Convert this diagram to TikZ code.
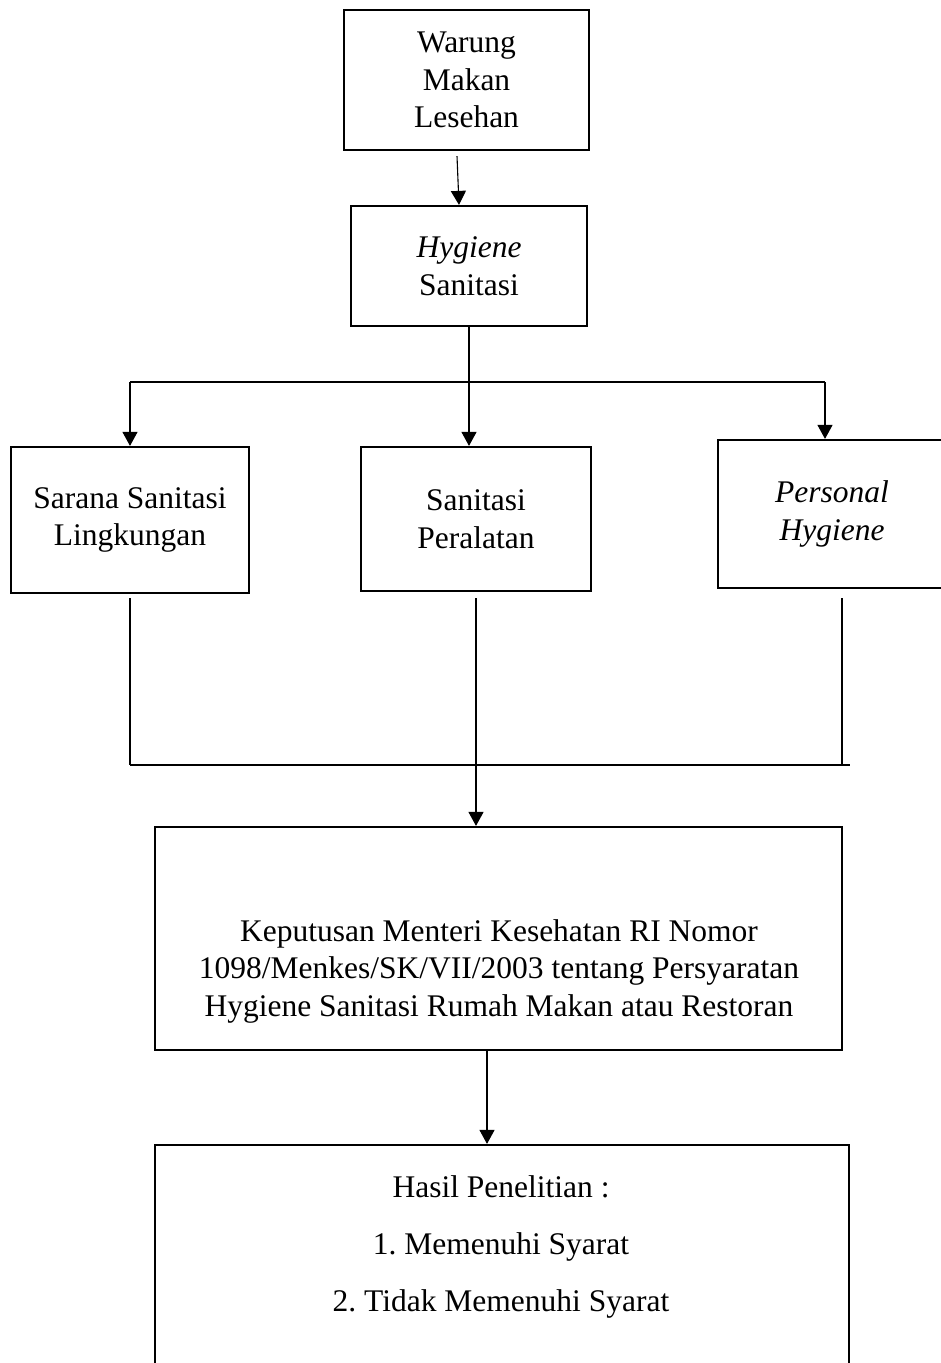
\documentclass[tikz,border=0pt]{standalone}
\usepackage{fontspec}
\setmainfont{Liberation Serif}
\usetikzlibrary{arrows.meta,calc}
\frenchspacing
\begin{document}
\begin{tikzpicture}[x=1pt,y=-1pt,
  box/.style={draw, line width=2.2pt, inner sep=0pt, align=center, font=\fontsize{31.5}{37.5}\selectfont},
  txt/.style={inner sep=0pt, align=center, font=\fontsize{31.5}{37.5}\selectfont},
  conn/.style={line width=1.1pt},
  arr/.style={conn, -{Triangle[width=15pt,length=14pt]}}]
\useasboundingbox (0,0) rectangle (941,1363);
\clip (0,0) rectangle (941,1363);

\node[box, minimum width=245pt, minimum height=140pt] (W) at (466.5,80) {Warung\\Makan\\Lesehan};
\node[box, minimum width=236pt, minimum height=120pt] (H) at (469,266) {\textit{Hygiene}\\Sanitasi};
\node[box, minimum width=238pt, minimum height=146pt] (L) at (130,520) {Sarana Sanitasi\\Lingkungan};
\node[box, minimum width=230pt, minimum height=144pt] (S) at (476,519) {Sanitasi\\Peralatan};
\node[box, minimum width=228pt, minimum height=148pt] (P) at (832,514) {\textit{Personal}\\\textit{Hygiene}};
\node[box, minimum width=687pt, minimum height=223pt] (K) at (498.5,938.5) {};
\node[txt] (Kt) at (499,971) {Keputusan Menteri Kesehatan RI Nomor\\1098/Menkes/SK/VII/2003 tentang Persyaratan\\Hygiene Sanitasi Rumah Makan atau Restoran};
\node[box, minimum width=694pt, minimum height=240pt] (R) at (502,1265) {};
\node[txt, font=\fontsize{31.5}{57}\selectfont] (Rt) at (501,1247) {Hasil Penelitian :\\1. Memenuhi Syarat\\2. Tidak Memenuhi Syarat};

% top arrow
\draw[arr] ([xshift=-9.5pt,yshift=-5pt]W.south) -- ([xshift=-10pt]H.north);

% branching
\coordinate (hj) at (469,382);
\coordinate (pa) at ([xshift=-7pt]P.north);
\draw[arr] (H.south) -- (H.south |- S.north);
\draw[conn] (hj -| L.north) -- (pa |- hj);
\draw[arr] (hj -| L.north) -- (L.north);
\draw[arr] (pa |- hj) -- (pa);

% merging
\coordinate (lj) at (130,765);
\coordinate (pb) at ([xshift=10pt,yshift=-9pt]P.south);
\coordinate (le) at ([xshift=8pt]pb |- lj);
\draw[conn] ([yshift=-4pt]L.south) -- (L.south |- lj);
\draw[conn] (pb) -- (pb |- lj);
\draw[conn] (L.south |- lj) -- (le);
\draw[arr] ([yshift=-6pt]S.south) -- (S.south |- K.north);

% bottom arrow
\coordinate (ka) at ([xshift=-11.5pt]K.south);
\draw[arr] (ka) -- (ka |- R.north);
\end{tikzpicture}
\end{document}
